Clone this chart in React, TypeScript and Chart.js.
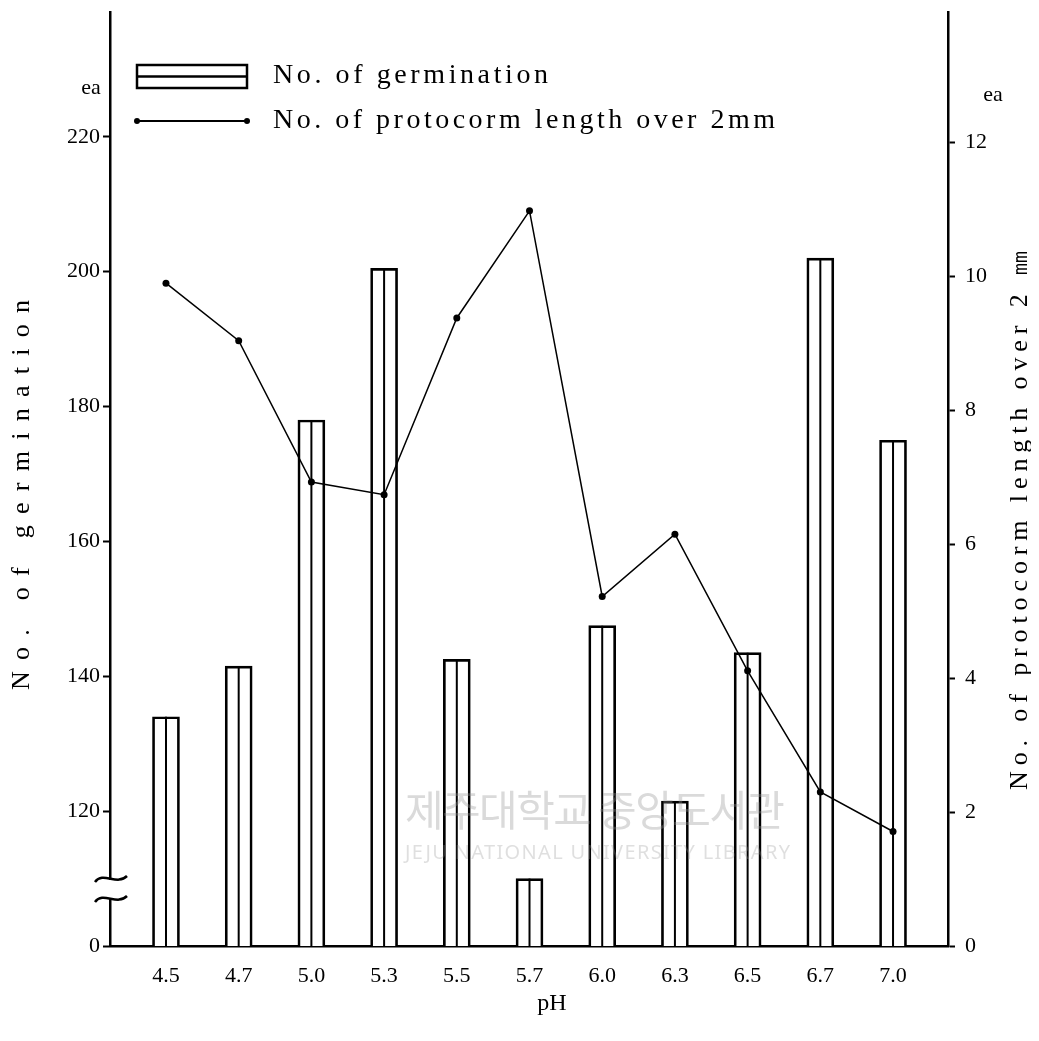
import { useEffect, useRef } from 'react';
import { Chart, registerables } from 'chart.js';

Chart.register(...registerables);

// ---- data ----
const categories = ['4.5', '4.7', '5.0', '5.3', '5.5', '5.7', '6.0', '6.3', '6.5', '6.7', '7.0'];
const germination = [134, 141.5, 178, 200.5, 142.5, 110, 147.5, 121.5, 143.5, 202, 175];
const protocormOver2mm = [9.9, 9.04, 6.93, 6.74, 9.38, 10.98, 5.22, 6.15, 4.11, 2.3, 1.71];
// left axis is broken: the value 100 is drawn at the baseline and labelled "0"
const leftTicks = [100, 120, 140, 160, 180, 200, 220];
const leftTickLabels = ['0', '120', '140', '160', '180', '200', '220'];
const rightTicks = [0, 2, 4, 6, 8, 10, 12];
const legendLabels = ['No. of germination', 'No. of protocorm length over 2mm'];
const leftTitle = 'No. of germination';
const rightTitle = 'No. of protocorm length over 2 \u339C';
const xTitle = 'pH';
const unitLabel = 'ea';
const watermarkKo = '제주대학교 중앙도서관';
const watermarkEn = 'JEJU NATIONAL UNIVERSITY LIBRARY';

const W = 1023;
const H = 1025;
const SERIF = '"Liberation Serif", "Times New Roman", serif';

function spaced(ctx: CanvasRenderingContext2D, text: string, x: number, y: number, width: number) {
  (ctx as any).letterSpacing = '0px';
  const w0 = ctx.measureText(text).width;
  const n = Array.from(text).length;
  const ls = n > 1 ? (width - w0) / (n - 1) : 0;
  (ctx as any).letterSpacing = ls + 'px';
  ctx.textAlign = 'left';
  ctx.fillText(text, x, y);
  (ctx as any).letterSpacing = '0px';
}

const decor = {
  id: 'decor',
  afterDatasetDraw(chart: any, args: any) {
    if (args.index !== 0) return;
    const ctx = chart.ctx as CanvasRenderingContext2D;
    ctx.save();
    ctx.strokeStyle = '#000';
    ctx.lineWidth = 2;
    args.meta.data.forEach((el: any) => {
      ctx.beginPath();
      ctx.moveTo(el.x, el.y);
      ctx.lineTo(el.x, Math.min(el.base, chart.chartArea.bottom));
      ctx.stroke();
    });
    ctx.restore();
  },
  afterDatasetsDraw(chart: any) {
    const ctx = chart.ctx as CanvasRenderingContext2D;
    ctx.save();
    ctx.fillStyle = 'rgba(150,150,150,0.35)';
    ctx.textBaseline = 'middle';
    ctx.font = '42px "Noto Sans CJK KR", sans-serif';
    spaced(ctx, watermarkKo, 397, 802, 380);
    ctx.font = '20px "Noto Sans", sans-serif';
    ctx.fillStyle = 'rgba(150,150,150,0.3)';
    spaced(ctx, watermarkEn, 397, 845, 385);
    ctx.restore();
  },
  afterDraw(chart: any) {
    const ctx = chart.ctx as CanvasRenderingContext2D;
    const area = chart.chartArea;
    ctx.save();
    ctx.strokeStyle = '#000';

    // axis break on left axis
    const ax = area.left;
    ctx.fillStyle = '#fff';
    ctx.fillRect(ax - 4, area.bottom - 66, 8, 19);
    ctx.lineWidth = 2.5;
    [area.bottom - 67, area.bottom - 47].forEach((cy) => {
      const cx = ax + 1;
      ctx.beginPath();
      ctx.moveTo(cx - 16, cy + 3);
      ctx.bezierCurveTo(cx - 8, cy - 8, cx + 6, cy + 7, cx + 16, cy - 3);
      ctx.stroke();
    });

    // legend
    ctx.lineWidth = 2.5;
    ctx.strokeRect(129, 57, 110, 23);
    ctx.beginPath();
    ctx.moveTo(129, 68.5);
    ctx.lineTo(239, 68.5);
    ctx.stroke();
    ctx.lineWidth = 1.8;
    ctx.beginPath();
    ctx.moveTo(129, 113);
    ctx.lineTo(239, 113);
    ctx.stroke();
    ctx.fillStyle = '#000';
    [129, 239].forEach((x) => {
      ctx.beginPath();
      ctx.arc(x, 113, 3, 0, Math.PI * 2);
      ctx.fill();
    });
    ctx.font = '28px ' + SERIF;
    ctx.textBaseline = 'middle';
    spaced(ctx, legendLabels[0], 265, 68, 275);
    spaced(ctx, legendLabels[1], 265, 113, 502);

    // unit labels
    ctx.font = '22px ' + SERIF;
    ctx.textAlign = 'center';
    ctx.fillText(unitLabel, 83, 80);
    ctx.fillText(unitLabel, 985, 87);

    // x title
    ctx.font = '24px ' + SERIF;
    ctx.fillText(xTitle, 544, 996);

    // left title
    ctx.font = '26px ' + SERIF;
    ctx.save();
    ctx.translate(14, 487);
    ctx.rotate(-Math.PI / 2);
    spaced(ctx, leftTitle, -195, 0, 390);
    ctx.restore();

    // right title
    ctx.save();
    ctx.translate(1012, 512);
    ctx.rotate(-Math.PI / 2);
    spaced(ctx, rightTitle, -270, 0, 540);
    ctx.restore();

    ctx.restore();
  },
};

function noPad(scale: any) {
  scale.paddingTop = 0;
  scale.paddingBottom = 0;
  scale.paddingLeft = 0;
  scale.paddingRight = 0;
}

export default function App() {
  const ref = useRef<HTMLCanvasElement>(null);
  useEffect(() => {
    const canvas = ref.current;
    if (!canvas) return;
    const chart = new Chart(canvas, {
      type: 'bar',
      data: {
        datasets: [
          {
            type: 'bar',
            label: legendLabels[0],
            data: germination.map((v, i) => ({ x: i, y: v })),
            backgroundColor: '#fff',
            borderColor: '#000',
            borderWidth: 2.7,
            barThickness: 27,
            yAxisID: 'y',
            order: 1,
          } as any,
          {
            type: 'line',
            label: legendLabels[1],
            data: protocormOver2mm.map((v, i) => ({ x: i, y: v })),
            borderColor: '#000',
            backgroundColor: '#000',
            borderWidth: 1.5,
            pointRadius: 3.5,
            pointBackgroundColor: '#000',
            pointBorderWidth: 0,
            tension: 0,
            yAxisID: 'y1',
            order: 0,
          } as any,
        ],
      },
      options: {
        responsive: false,
        animation: false,
        devicePixelRatio: 1,
        layout: { padding: { top: 4, left: 0, right: 0, bottom: 0 } },
        plugins: {
          legend: { display: false },
          tooltip: { enabled: false },
        },
        scales: {
          x: {
            type: 'linear',
            offset: false,
            min: -0.77,
            max: 10.756,
            afterBuildTicks: (scale: any) => {
              scale.ticks = categories.map((_, i) => ({ value: i }));
            },
            afterFit: (scale: any) => {
              scale.height = 87;
              noPad(scale);
            },
            grid: { display: false },
            border: { display: true, color: '#000', width: 2.5 },
            ticks: {
              autoSkip: false,
              maxRotation: 0,
              padding: 9,
              color: '#000',
              font: { family: SERIF, size: 22 },
              callback: (v: any) => categories[v] ?? '',
            },
          },
          y: {
            type: 'linear',
            position: 'left',
            beginAtZero: false,
            min: 100,
            max: 238.5,
            afterBuildTicks: (scale: any) => {
              scale.ticks = leftTicks.map((v) => ({ value: v }));
            },
            afterFit: (scale: any) => {
              scale.width = 102;
              noPad(scale);
            },
            grid: { display: true, drawOnChartArea: false, drawTicks: true, tickLength: 7, color: '#000', tickWidth: 2 } as any,
            border: { display: true, color: '#000', width: 2.5 },
            ticks: {
              padding: 3,
              color: '#000',
              font: { family: SERIF, size: 22 },
              callback: (v: any) => leftTickLabels[leftTicks.indexOf(v)] ?? '',
            },
          },
          y1: {
            type: 'linear',
            position: 'right',
            min: 0,
            max: 13.95,
            afterBuildTicks: (scale: any) => {
              scale.ticks = rightTicks.map((v) => ({ value: v }));
            },
            afterFit: (scale: any) => {
              scale.width = 83;
              noPad(scale);
            },
            grid: { display: true, drawOnChartArea: false, drawTicks: true, tickLength: 7, color: '#000', tickWidth: 2 } as any,
            border: { display: true, color: '#000', width: 2.5 },
            ticks: {
              padding: 10,
              color: '#000',
              font: { family: SERIF, size: 22 },
              callback: (v: any) => String(v),
            },
          },
        },
      },
      plugins: [decor],
    });
    return () => chart.destroy();
  }, []);
  return (
    <div style={{ position: 'relative', width: W, height: H }}>
      <canvas ref={ref} width={W} height={H} style={{ display: 'block' }} />
    </div>
  );
}
